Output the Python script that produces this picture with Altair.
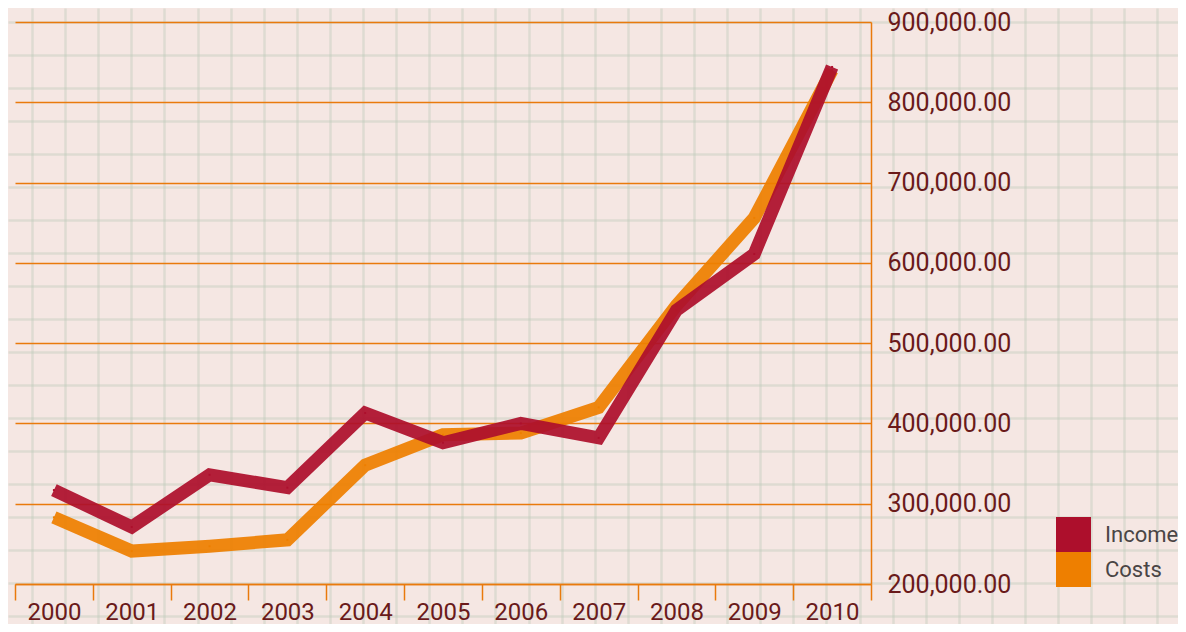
import altair as alt
import pandas as pd

years = ["2000", "2001", "2002", "2003", "2004", "2005", "2006", "2007", "2008", "2009", "2010"]
income = [317000, 271000, 336000, 320000, 413000, 376000, 400000, 382000, 541000, 611000, 844000]
costs = [283000, 241000, 247000, 255000, 348000, 386000, 388000, 420000, 547000, 656000, 840000]
series_names = ["Income", "Costs"]
series_colors = ["#ad0f2c", "#ee7f00"]
y_ticks = [200000, 300000, 400000, 500000, 600000, 700000, 800000, 900000]

rows = []
for y, v in zip(years, costs):
    rows.append({"year": y, "value": v, "series": "Costs"})
for y, v in zip(years, income):
    rows.append({"year": y, "value": v, "series": "Income"})
df = pd.DataFrame(rows)

W, H = 1170, 616
FONT = "Roboto"
ORANGE = "#e97a0c"
LABEL = "#6a1a1a"

# decorative graph-paper texture (axis gridlines only)
paper_x = [24 + 33.1 * k for k in range(36) if 24 + 33.1 * k < W]
paper_y = [14 + 33.0 * k for k in range(19) if 14 + 33.0 * k < H]

paper = alt.Chart(df).mark_point(opacity=0).encode(
    x=alt.XDatum(0, type="quantitative",
                 scale=alt.Scale(domain=[0, W], range=[0, W], nice=False, zero=False),
                 axis=alt.Axis(orient="top", values=paper_x, grid=True, labels=False, ticks=False,
                               domain=False, title=None, gridColor="#bccab9", gridWidth=2.5,
                               gridOpacity=0.4)),
    y=alt.YDatum(0, type="quantitative",
                 scale=alt.Scale(domain=[0, H], range=[0, H], nice=False, zero=False),
                 axis=alt.Axis(orient="right", values=paper_y, grid=True, labels=False, ticks=False,
                               domain=False, title=None, gridColor="#bccab9", gridWidth=2.5,
                               gridOpacity=0.4)),
)

x_enc = alt.X("year:O", sort=years,
              scale=alt.Scale(type="band", domain=years, range=[7, 863], paddingInner=0, paddingOuter=0),
              axis=alt.Axis(orient="bottom", offset=-40, title=None, labelAngle=0, grid=False,
                            tickBand="extent", tickSize=16, tickColor=ORANGE, tickWidth=1.5,
                            domainColor=ORANGE, domainWidth=1.5, labelFont=FONT, labelFontSize=24,
                            labelColor=LABEL, labelPadding=0))
y_enc = alt.Y("value:Q",
              scale=alt.Scale(domain=[200000, 900000], range=[576, 14], nice=False, zero=False),
              axis=alt.Axis(orient="left", offset=-863, title=None, values=y_ticks, format=",.2f",
                            grid=True, gridColor=ORANGE, gridWidth=1.5, ticks=False,
                            domainColor=ORANGE, domainWidth=1.5, labelFont=FONT, labelFontSize=25,
                            labelColor=LABEL, labelPadding=-16, labelAlign="left"))
color_scale = alt.Scale(domain=series_names, range=series_colors)

legend_layer = alt.Chart(df).mark_square(size=4, filled=True, opacity=1).encode(
    x=x_enc, y=y_enc,
    color=alt.Color("series:N", scale=color_scale,
                    legend=alt.Legend(orient="none", legendX=1048, legendY=509, title=None,
                                      symbolType="square", symbolSize=1225, symbolStrokeWidth=0,
                                      rowPadding=0, padding=0, labelOffset=14, labelFont=FONT,
                                      labelFontSize=22, labelColor="#4a4545", symbolOpacity=1,
                                      labelLimit=200)),
)

lines = alt.Chart(df).mark_line(strokeWidth=13, opacity=0.93, strokeJoin="miter", strokeCap="butt").encode(
    x=x_enc, y=y_enc,
    color=alt.Color("series:N", scale=color_scale, legend=None),
    detail="series:N",
)

main = alt.layer(legend_layer, lines)

chart = alt.layer(paper, main).resolve_scale(x="independent", y="independent").properties(
    width=W, height=H,
    autosize=alt.AutoSizeParams(type="none"),
    padding=0,
    background="#f5e7e3",
).configure_view(stroke=None)

chart.save("out.html", embed_options={"renderer": "svg", "actions": False})
